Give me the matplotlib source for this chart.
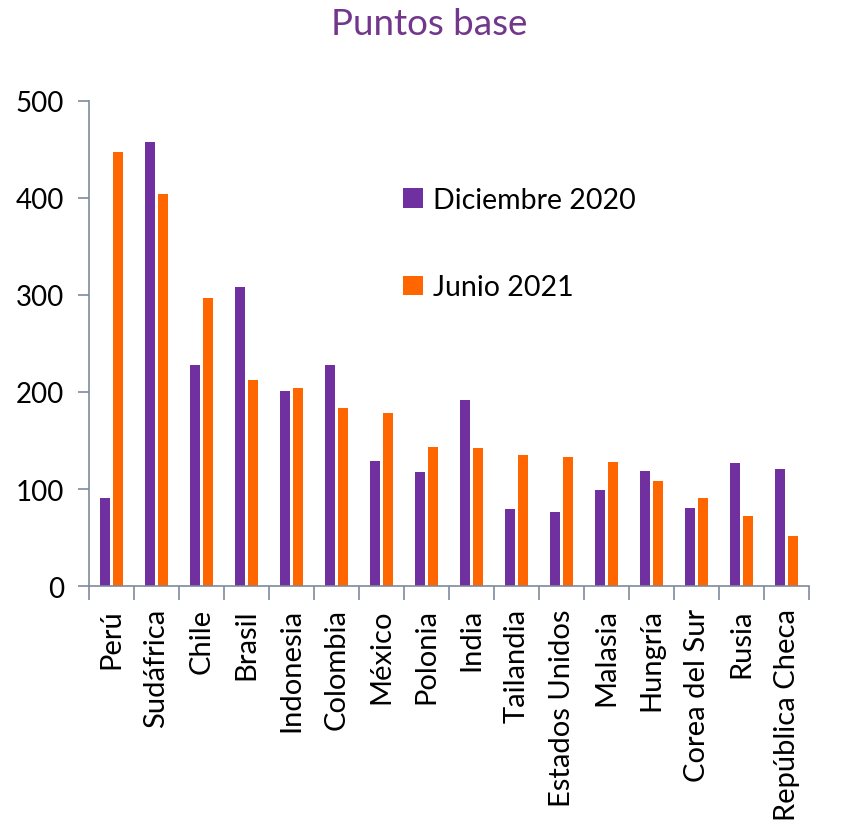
import matplotlib
matplotlib.use('Agg')
import matplotlib.pyplot as plt
import numpy as np

# paises y diferenciales (puntos base)
paises = ['Perú', 'Sudáfrica', 'Chile', 'Brasil', 'Indonesia', 'Colombia', 'México',
          'Polonia', 'India', 'Tailandia', 'Estados Unidos', 'Malasia', 'Hungría',
          'Corea del Sur', 'Rusia', 'República Checa']
dic_2020 = [91, 458, 228, 308, 201, 228, 129, 118, 192, 79, 76, 99, 119, 80, 127, 121]
jun_2021 = [447, 404, 297, 212, 204, 183, 178, 143, 142, 135, 133, 128, 108, 91, 72, 52]

morado = '#7030A0'
naranja = '#FF6600'
eje = '#7F8A9C'

plt.rcParams['font.family'] = ['Lato', 'DejaVu Sans']

fig = plt.figure(figsize=(8.59, 8.29), dpi=100)
ax = fig.add_axes([0.1036, 0.2919, 0.8384, 0.5851])

x = np.arange(len(paises))
ancho = 0.222
ax.bar(x - 0.14, dic_2020, ancho, color=morado, label='Diciembre 2020')
ax.bar(x + 0.14, jun_2021, ancho, color=naranja, label='Junio 2021')

ax.set_xlim(-0.5, len(paises) - 0.5)
ax.set_ylim(0, 500)
ax.set_yticks(range(0, 501, 100))

# marcas del eje x entre categorias, etiquetas centradas
ax.set_xticks(np.arange(-0.5, len(paises), 1.0))
ax.set_xticklabels([])
ax.set_xticks(x, minor=True)
ax.set_xticklabels(paises, minor=True, rotation=90, fontsize=21)
ax.tick_params(axis='x', which='major', length=10, width=1.2, color=eje, direction='out')
ax.tick_params(axis='x', which='minor', length=0, pad=16)
ax.tick_params(axis='y', length=8, width=1.2, color=eje, labelsize=20, pad=10)

for lado in ['top', 'right']:
    ax.spines[lado].set_visible(False)
for lado in ['left', 'bottom']:
    ax.spines[lado].set_color(eje)
    ax.spines[lado].set_linewidth(1.2)

ax.legend(loc='upper left', bbox_to_anchor=(0.4, 0.875), frameon=False, fontsize=20.5,
          handlelength=0.7, handleheight=0.7, handletextpad=0.35, labelspacing=2.15)

fig.suptitle('Puntos base', x=0.5, y=0.99, fontsize=26.5, color='#72378C')

fig.savefig('out.png', dpi=100)
